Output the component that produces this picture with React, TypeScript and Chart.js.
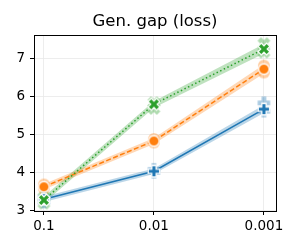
import { useEffect, useRef } from 'react';
import { Chart, registerables } from 'chart.js';
Chart.register(...registerables);

const xLabels = ['0.1', '0.01', '0.001'];
const xPos = [0, 1, 2];
const yTicks = [3, 4, 5, 6, 7];

const blueMean = [3.29, 4.03, 5.67];
const blueLow = [3.22, 3.96, 5.57];
const blueHigh = [3.36, 4.10, 5.78];
const blueRunA = [3.22, 4.0, 5.62];
const blueRunB = [3.34, 4.08, 5.84];

const orangeMean = [3.62, 4.83, 6.73];
const orangeLow = [3.55, 4.75, 6.61];
const orangeHigh = [3.69, 4.91, 6.85];
const orangeRunA = [3.57, 4.79, 6.64];
const orangeRunB = [3.68, 4.88, 6.82];

const greenMean = [3.27, 5.80, 7.26];
const greenLow = [3.19, 5.71, 7.14];
const greenHigh = [3.36, 5.88, 7.39];
const greenRunA = [3.19, 5.69, 7.18];
const greenRunB = [3.34, 5.84, 7.40];

const BLUE = '#1f77b4';
const ORANGE = '#ff7f0e';
const GREEN = '#2ca02c';

function rgba(hex: string, a: number) {
  const n = parseInt(hex.slice(1), 16);
  return `rgba(${(n >> 16) & 255},${(n >> 8) & 255},${n & 255},${a})`;
}

function makeMarker(shape: string, fill: string, edge: string, size: number, edgeW: number) {
  const pad = 3;
  const c = document.createElement('canvas');
  const S = Math.ceil(size + pad * 2);
  c.width = S;
  c.height = S;
  const ctx = c.getContext('2d')!;
  const cx = S / 2, cy = S / 2, r = size / 2;
  ctx.beginPath();
  if (shape === 'circle') {
    ctx.arc(cx, cy, r, 0, Math.PI * 2);
  } else {
    const w = r * 0.38;
    const pts: [number, number][] = [
      [-w, -r], [w, -r], [w, -w], [r, -w], [r, w], [w, w], [w, r], [-w, r], [-w, w], [-r, w], [-r, -w], [-w, -w],
    ];
    const ang = shape === 'x' ? Math.PI / 4 : 0;
    const k = shape === 'x' ? 1.05 : 1;
    pts.forEach(([px, py], i) => {
      const X = cx + k * (px * Math.cos(ang) - py * Math.sin(ang));
      const Y = cy + k * (px * Math.sin(ang) + py * Math.cos(ang));
      if (i === 0) ctx.moveTo(X, Y); else ctx.lineTo(X, Y);
    });
    ctx.closePath();
  }
  ctx.fillStyle = fill;
  ctx.fill();
  if (edgeW > 0) {
    ctx.lineWidth = edgeW;
    ctx.strokeStyle = edge;
    ctx.stroke();
  }
  return c;
}

const pts = (arr: number[]) => arr.map((y, i) => ({ x: xPos[i], y }));

export default function App() {
  const ref = useRef<HTMLCanvasElement>(null);
  useEffect(() => {
    if (!ref.current) return;
    const series = [
      { color: BLUE, mean: blueMean, low: blueLow, high: blueHigh, runs: [blueRunA, blueRunB], shape: 'plus', dash: [] as number[] },
      { color: ORANGE, mean: orangeMean, low: orangeLow, high: orangeHigh, runs: [orangeRunA, orangeRunB], shape: 'circle', dash: [5, 2.5] },
      { color: GREEN, mean: greenMean, low: greenLow, high: greenHigh, runs: [greenRunA, greenRunB], shape: 'x', dash: [1.5, 2.5] },
    ];
    const datasets: any[] = [];
    series.slice().reverse().forEach((s) => {
      const m = makeMarker(s.shape, s.color, '#ffffff', s.shape === 'circle' ? 10.5 : 11.5, 1.3);
      datasets.push({
        data: pts(s.mean),
        borderColor: s.color,
        borderWidth: 1.5,
        borderDash: s.dash,
        pointStyle: m,
        pointRadius: 5,
        fill: false,
        order: 0,
        tension: 0,
      });
    });
    series.forEach((s) => {
      s.runs.forEach((r) => {
        const m = makeMarker(s.shape, rgba(s.color, 0.38), rgba(s.color, 0.0), s.shape === 'circle' ? 12 : 12.5, 0);
        datasets.push({
          data: pts(r),
          showLine: false,
          pointStyle: m,
          pointRadius: 5,
          order: 1,
        });
      });
    });
    series.forEach((s) => {
      datasets.push({
        data: pts(s.high),
        borderWidth: 0,
        borderColor: 'rgba(0,0,0,0)',
        pointRadius: 0,
        backgroundColor: rgba(s.color, 0.3),
        fill: '+1',
        order: 2,
      });
      datasets.push({
        data: pts(s.low),
        borderWidth: 0,
        borderColor: 'rgba(0,0,0,0)',
        pointRadius: 0,
        fill: false,
        order: 2,
      });
    });

    const frame = {
      id: 'frame',
      afterDatasetsDraw(chart: any) {
        const { ctx, chartArea: a } = chart;
        ctx.save();
        ctx.strokeStyle = '#000';
        ctx.lineWidth = 1;
        ctx.strokeRect(Math.round(a.left) + 0.5, Math.round(a.top) + 0.5, Math.round(a.right - a.left), Math.round(a.bottom - a.top));
        ctx.restore();
      },
    };

    const font = { family: 'DejaVu Sans', size: 13.5 };
    const chart = new Chart(ref.current, {
      type: 'line',
      data: { datasets },
      options: {
        animation: false,
        responsive: false,
        layout: { padding: { left: 0, right: 24, top: 0, bottom: 0 } },
        plugins: {
          legend: { display: false },
          tooltip: { enabled: false },
          title: {
            display: true,
            text: 'Gen. gap (loss)',
            color: '#000',
            font: { family: 'DejaVu Sans', size: 16.5, weight: 'normal' },
            padding: { top: 12, bottom: 3.2 },
            fullSize: false,
          },
        },
        scales: {
          x: {
            type: 'linear',
            min: -0.09,
            max: 2.11,
            afterBuildTicks: (s: any) => { s.ticks = xPos.map((v) => ({ value: v })); },
            afterFit: (s: any) => { s.height = 39; },
            ticks: {
              color: '#000',
              font,
              padding: 3,
              maxRotation: 0,
              autoSkip: false,
              callback: (v: any) => xLabels[Math.round(Number(v))] ?? '',
            },
            grid: { color: '#e8e8e8', lineWidth: 0.8, tickColor: '#000', tickLength: 4, tickWidth: 1 },
            border: { color: '#000', width: 1 },
          },
          y: {
            type: 'linear',
            min: 2.98,
            max: 7.63,
            afterBuildTicks: (s: any) => { s.ticks = yTicks.map((v) => ({ value: v })); },
            afterFit: (s: any) => { s.width = 34; },
            ticks: { color: '#000', font, padding: 5, autoSkip: false },
            grid: { color: '#e8e8e8', lineWidth: 0.8, tickColor: '#000', tickLength: 4, tickWidth: 1 },
            border: { color: '#000', width: 1 },
          },
        },
      } as any,
      plugins: [frame],
    });
    return () => chart.destroy();
  }, []);
  return (
    <div style={{ position: 'fixed', left: 0, top: 0, width: 300, height: 250, background: '#fff' }}>
      <canvas ref={ref} width={300} height={250} style={{ display: 'block', width: 300, height: 250 }} />
    </div>
  );
}
